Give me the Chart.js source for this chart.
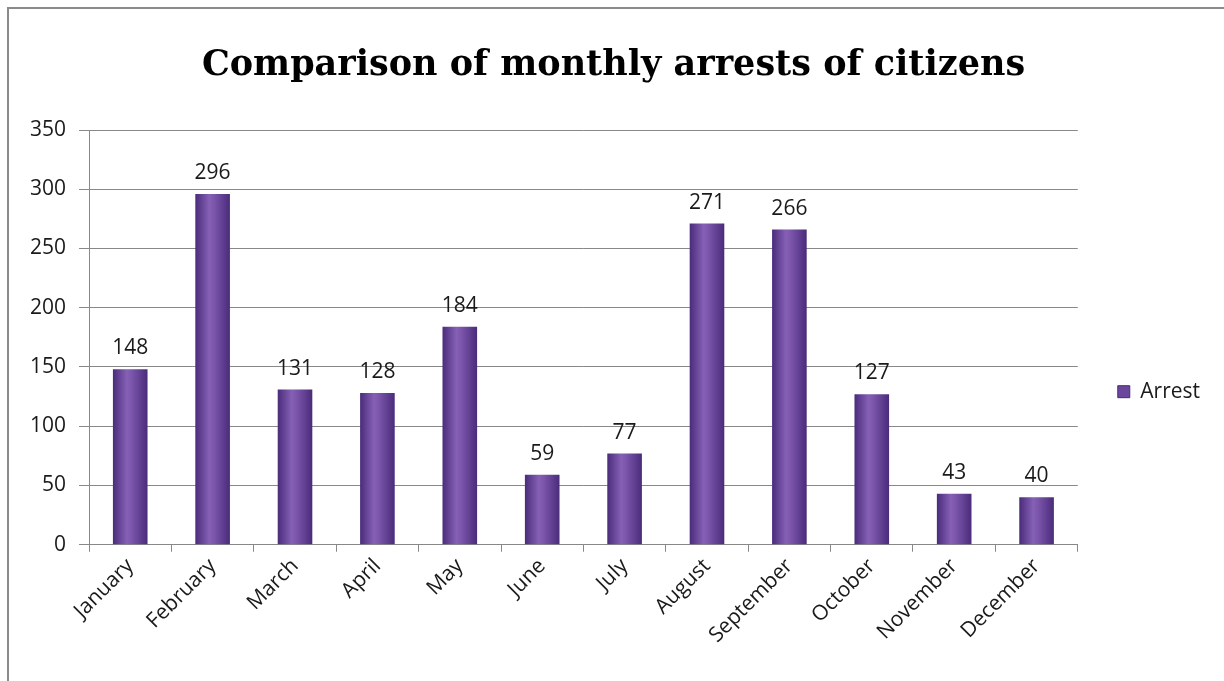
<!DOCTYPE html>
<html>
<head>
<meta charset="utf-8">
<script src="https://cdn.jsdelivr.net/npm/chart.js@4"></script>
<style>
    body { margin: 0; background: #fff; }
    #wrap {
        position: absolute; left: 7px; top: 7px;
        width: 1217px; height: 674px;
        border-left: 2px solid #8a8a8a; border-top: 2px solid #8a8a8a;
    }
</style>
</head>
<body>
<div id="wrap"><canvas id="arrests-chart"></canvas></div>
<script>
const months = ["January", "February", "March", "April", "May", "June",
                "July", "August", "September", "October", "November", "December"];
const arrests = [148, 296, 131, 128, 184, 59, 77, 271, 266, 127, 43, 40];
const yTicks = [0, 50, 100, 150, 200, 250, 300, 350];

const BAR_PCT = 0.42;
const TEXT = "#1a1a1a";

function bar_fill(ctx)
{
    const chart = ctx.chart;
    const xs = chart.scales.x;
    if (ctx.type !== "data" || !xs || !chart.chartArea) return "#6a469c";
    const cx = xs.getPixelForValue(ctx.dataIndex);
    const w = (xs.width / months.length) * BAR_PCT;
    const g = chart.ctx.createLinearGradient(cx - w / 2, 0, cx + w / 2, 0);
    g.addColorStop(0, "#4a2b7a");
    g.addColorStop(0.4, "#8560b5");
    g.addColorStop(0.55, "#7a55aa");
    g.addColorStop(1, "#4a2b7a");
    return g;
}

// value labels over each bar
const valueLabels = {
    id: "valueLabels",
    afterDatasetsDraw(chart) {
        const c = chart.ctx;
        const meta = chart.getDatasetMeta(0);
        c.save();
        c.font = "21px 'Open Sans'";
        c.fillStyle = TEXT;
        c.textAlign = "center";
        c.textBaseline = "alphabetic";
        meta.data.forEach((bar, i) => {
            c.fillText(arrests[i], bar.x, bar.y - 15);
        });
        c.restore();
    }
};

const chart_ctx = document.getElementById("arrests-chart").getContext("2d");

const arrests_chart = new Chart(chart_ctx, {
    type: "bar",
    data: {
        labels: months,
        datasets: [{
            label: "Arrest",
            data: arrests,
            backgroundColor: bar_fill,
            borderWidth: 0,
            barPercentage: BAR_PCT,
            categoryPercentage: 1
        }]
    },
    options: {
        responsive: true,
        maintainAspectRatio: false,
        animation: false,
        layout: { padding: { left: 8, right: 16, top: 0, bottom: 33 } },
        plugins: {
            title: {
                display: true,
                text: "Comparison of monthly arrests of citizens",
                color: "#000",
                font: { family: "'DejaVu Serif', serif", size: 35, weight: "bold" },
                padding: { top: 36, bottom: 43 }
            },
            legend: {
                position: "right",
                title: { display: true, text: " ", padding: { top: 55, bottom: 55 } },
                labels: {
                    color: TEXT,
                    font: { family: "'Open Sans'", size: 21 },
                    boxWidth: 12,
                    boxHeight: 12,
                    padding: 40,
                    generateLabels: () => [{
                        text: "Arrest", fillStyle: "#6a469c", strokeStyle: "#4a2b7a",
                        fontColor: TEXT, lineWidth: 1, datasetIndex: 0
                    }]
                }
            },
            tooltip: { enabled: false }
        },
        scales: {
            x: {
                grid: { drawOnChartArea: false, drawTicks: true, tickLength: 7, color: "#888", offset: true },
                border: { color: "#888" },
                ticks: {
                    color: TEXT,
                    font: { family: "'Open Sans'", size: 21 },
                    minRotation: 45,
                    maxRotation: 45,
                    padding: 2
                }
            },
            y: {
                min: 0,
                max: 350,
                afterBuildTicks: axis => { axis.ticks = yTicks.map(v => ({ value: v })); },
                grid: { color: "#888", tickLength: 10 },
                border: { color: "#888" },
                ticks: {
                    color: TEXT,
                    font: { family: "'Open Sans'", size: 21 },
                    padding: 13
                }
            }
        }
    },
    plugins: [valueLabels]
});
</script>
</body>
</html>
